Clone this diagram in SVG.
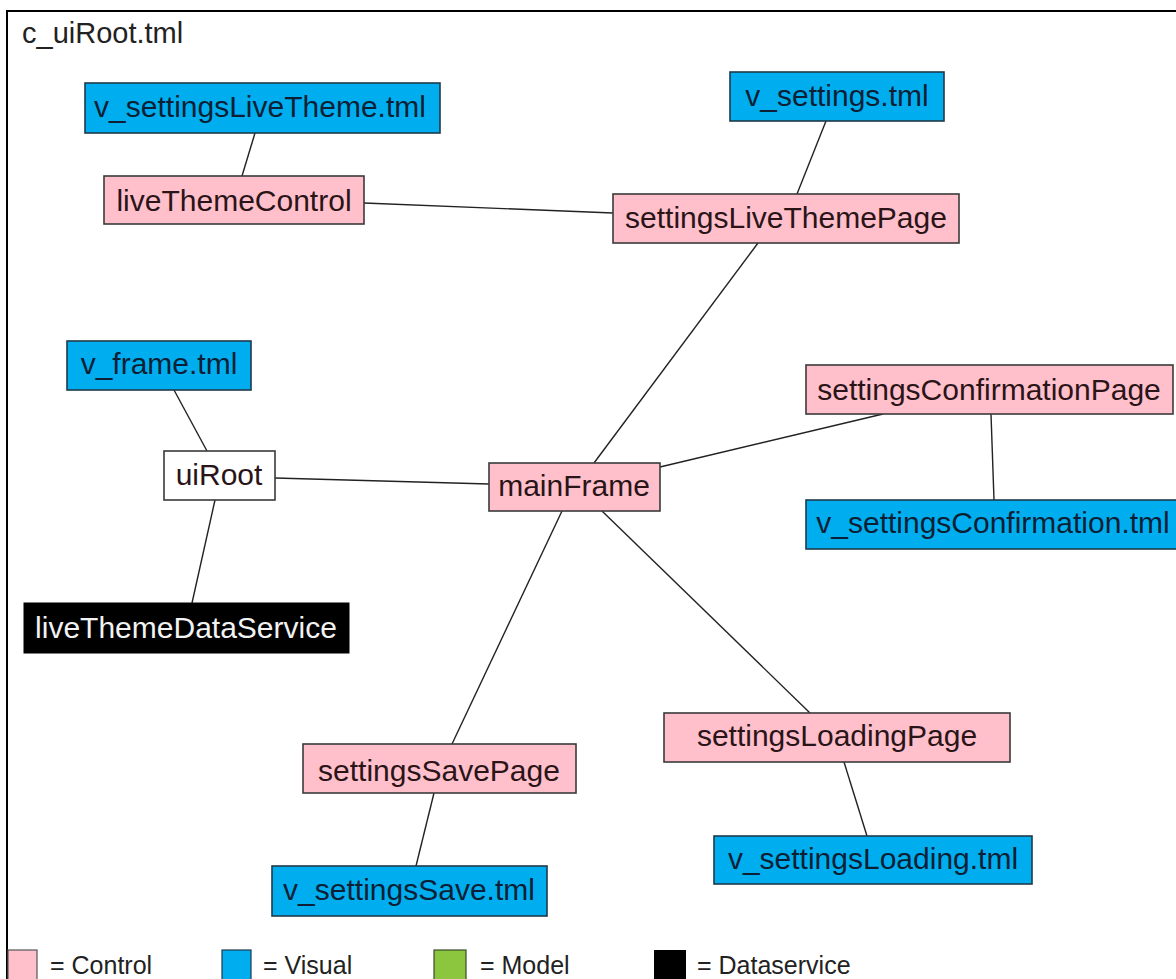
<svg xmlns="http://www.w3.org/2000/svg" width="1176" height="979" viewBox="0 0 1176 979">
<style>
text{font-family:"Liberation Sans",Arial,sans-serif;font-size:30px;text-anchor:middle;fill:#2a1418}
.ctl{fill:#ffc0cb;stroke:#3a3a3a;stroke-width:1.6}
.vis{fill:#00aeef;stroke:#1f3a4a;stroke-width:1.6}
.vis + text{fill:#0d1f35}
.plain{fill:#fff;stroke:#3a3a3a;stroke-width:1.6}
.ds{fill:#000;stroke:#000}
.ds + text{fill:#f2f2f2}
#connectors line{stroke:#222;stroke-width:1.4}
.leg{text-anchor:start;font-size:25px;fill:#222}
</style>
<rect x="0" y="0" width="1176" height="979" fill="#fff"/>
<path d="M7,979 V11 H1176" fill="none" stroke="#000" stroke-width="2"/>
<text x="22" y="43" style="text-anchor:start;font-size:29px;fill:#222">c_uiRoot.tml</text>
<g id="connectors">
<line x1="255" y1="133" x2="242" y2="176"/>
<line x1="364" y1="203" x2="613" y2="213"/>
<line x1="826" y1="121" x2="797" y2="194"/>
<line x1="758" y1="243" x2="594" y2="463"/>
<line x1="174" y1="390" x2="207" y2="451"/>
<line x1="215" y1="500" x2="192" y2="603"/>
<line x1="275" y1="478" x2="489" y2="484"/>
<line x1="660" y1="467" x2="883" y2="414"/>
<line x1="991" y1="414" x2="994" y2="500"/>
<line x1="562" y1="511" x2="452" y2="744"/>
<line x1="602" y1="511" x2="810" y2="713"/>
<line x1="434" y1="793" x2="416" y2="866"/>
<line x1="844" y1="762" x2="867" y2="836"/>
</g>
<g id="v_settingsLiveTheme"><rect class="vis" x="85" y="83" width="355" height="50"/><text x="260" y="117">v_settingsLiveTheme.tml</text></g>
<g id="liveThemeControl"><rect class="ctl" x="104" y="176" width="260" height="48"/><text x="234" y="211">liveThemeControl</text></g>
<g id="v_settings"><rect class="vis" x="730" y="72" width="214" height="49"/><text x="837" y="106">v_settings.tml</text></g>
<g id="settingsLiveThemePage"><rect class="ctl" x="613" y="194" width="346" height="49"/><text x="786" y="228">settingsLiveThemePage</text></g>
<g id="v_frame"><rect class="vis" x="67" y="341" width="184" height="49"/><text x="159" y="374">v_frame.tml</text></g>
<g id="uiRoot"><rect class="plain" x="164" y="451" width="111" height="49"/><text x="219" y="485">uiRoot</text></g>
<g id="liveThemeDataService"><rect class="ds" x="24" y="603" width="325" height="50"/><text x="186" y="638">liveThemeDataService</text></g>
<g id="mainFrame"><rect class="ctl" x="489" y="463" width="171" height="48"/><text x="574" y="496">mainFrame</text></g>
<g id="settingsConfirmationPage"><rect class="ctl" x="806" y="365" width="367" height="49"/><text x="989" y="400">settingsConfirmationPage</text></g>
<g id="v_settingsConfirmation"><rect class="vis" x="806" y="500" width="376" height="49"/><text x="993" y="533">v_settingsConfirmation.tml</text></g>
<g id="settingsSavePage"><rect class="ctl" x="303" y="744" width="273" height="49"/><text x="439" y="781">settingsSavePage</text></g>
<g id="v_settingsSave"><rect class="vis" x="272" y="866" width="275" height="50"/><text x="409" y="900">v_settingsSave.tml</text></g>
<g id="settingsLoadingPage"><rect class="ctl" x="664" y="713" width="346" height="49"/><text x="837" y="746">settingsLoadingPage</text></g>
<g id="v_settingsLoading"><rect class="vis" x="714" y="836" width="318" height="48"/><text x="873" y="869">v_settingsLoading.tml</text></g>
<g id="legend">
<rect x="8" y="950" width="29" height="34" fill="#ffc0cb" stroke="#555" stroke-width="1.2"/>
<text class="leg" x="50" y="974">= Control</text>
<rect x="222" y="950" width="29" height="34" fill="#00aeef" stroke="#1f3a4a" stroke-width="1.2"/>
<text class="leg" x="263" y="974">= Visual</text>
<rect x="434" y="950" width="32" height="34" fill="#8cc63f" stroke="#3a4a2a" stroke-width="1.2"/>
<text class="leg" x="480" y="974">= Model</text>
<rect x="654" y="950" width="32" height="34" fill="#000"/>
<text class="leg" x="697" y="974">= Dataservice</text>
</g>
</svg>
